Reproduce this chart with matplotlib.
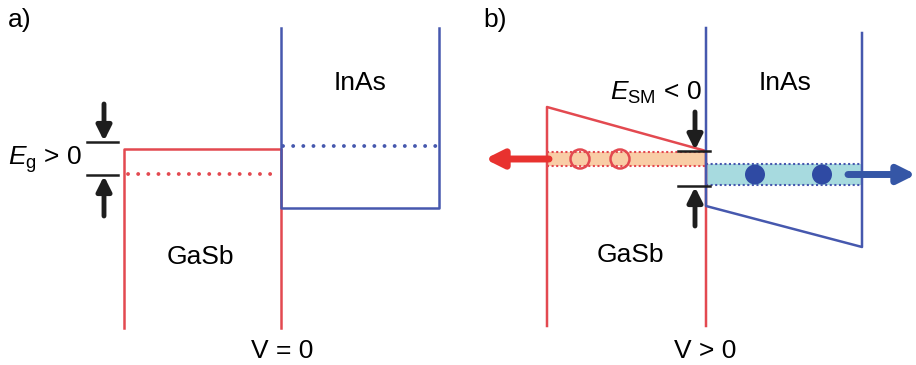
import matplotlib
matplotlib.use("Agg")
import matplotlib.pyplot as plt
from matplotlib.patches import Rectangle, Circle

plt.rcParams['font.family'] = ['Liberation Sans', 'DejaVu Sans']
plt.rcParams['mathtext.fontset'] = 'custom'
plt.rcParams['mathtext.rm'] = 'Liberation Sans'
plt.rcParams['mathtext.it'] = 'Liberation Sans:italic'

RED = '#e34950'
BLUE = '#4658ae'
BLACK = '#1e1e1e'

# panel a) flat bands (pixel-like units, y grows downwards)
a_x = [124, 281, 439]          # GaSb edge, interface, InAs edge
a_top = 28                     # top of InAs well walls
a_bottom = 328                 # bottom of GaSb walls
a_gasb_vb = 149                # GaSb valence band edge
a_gasb_lvl = 174               # GaSb confined hole level
a_inas_cb = 208                # InAs conduction band edge
a_inas_lvl = 146               # InAs confined electron level
a_gap = [142, 175]             # Eg marker ticks

# panel b) biased bands
b_x = [547, 706, 862]
b_top = [28, 33]
b_bottom = 326
b_gasb_vb = [107, 151]         # left edge, interface
b_inas_cb = [206, 247]         # interface, right edge
b_hole_band = [152, 166]
b_elec_band = [164, 185]
b_holes_x = [580, 620]
b_elecs_x = [755, 822]
b_gap = [151, 186]


def dotted(ax, x, y, color):
    ax.plot(x, y, color=color, lw=2.8, linestyle=(0, (0.01, 2.6)),
            dash_capstyle='round')


def arrow(ax, x0, y0, x1, y1, color, lw=3.5, ms=22):
    ax.annotate('', xy=(x1, y1), xytext=(x0, y0),
                arrowprops=dict(arrowstyle='-|>', lw=lw, color=color,
                                mutation_scale=ms, shrinkA=0, shrinkB=0))


fig = plt.figure(figsize=(9.16, 3.65), dpi=100)
ax = fig.add_axes([0, 0, 1, 1])
ax.set_xlim(0, 916)
ax.set_ylim(365, 0)
ax.axis('off')

# ---- panel a)
ax.plot([a_x[0], a_x[0], a_x[1], a_x[1]],
        [a_bottom, a_gasb_vb, a_gasb_vb, a_bottom], color=RED, lw=1.8)
ax.plot([a_x[1], a_x[1], a_x[2], a_x[2]],
        [a_top, a_inas_cb, a_inas_cb, a_top], color=BLUE, lw=1.8)
dotted(ax, [a_x[0] + 4, a_x[1] - 4], [a_gasb_lvl, a_gasb_lvl], RED)
dotted(ax, [a_x[1] + 2, a_x[2] - 2], [a_inas_lvl, a_inas_lvl], BLUE)

for yy in a_gap:
    ax.plot([87, 118], [yy, yy], color=BLACK, lw=1.8)
arrow(ax, 104, 104, 104, a_gap[0] - 1, BLACK)
arrow(ax, 104, 216, 104, a_gap[1] + 1, BLACK)

ax.text(8, 160, r'$E_{\rm g}$ > 0', fontsize=19, va='center', ha='left')
ax.text(360, 83, 'InAs', fontsize=19, ha='center', va='center')
ax.text(200, 257, 'GaSb', fontsize=19, ha='center', va='center')
ax.text(282, 351, 'V = 0', fontsize=19, ha='center', va='center')
ax.text(8, 20, 'a)', fontsize=19, ha='left', va='center')

# ---- panel b)
ax.add_patch(Rectangle((b_x[0], b_hole_band[0]), b_x[1] - b_x[0],
                       b_hole_band[1] - b_hole_band[0],
                       facecolor='#f9cda6', edgecolor='none'))
ax.add_patch(Rectangle((b_x[1], b_elec_band[0]), b_x[2] - b_x[1],
                       b_elec_band[1] - b_elec_band[0],
                       facecolor='#a7dadf', edgecolor='none'))
for yy in b_hole_band:
    ax.plot([b_x[0], b_x[1]], [yy, yy], color=RED, lw=1.5, linestyle=(0, (1, 1.2)))
for yy in b_elec_band:
    ax.plot([b_x[1], b_x[2]], [yy, yy], color=BLUE, lw=1.5, linestyle=(0, (1, 1.2)))

ax.plot([b_x[0], b_x[0], b_x[1], b_x[1]],
        [b_bottom, b_gasb_vb[0], b_gasb_vb[1], b_bottom], color=RED, lw=1.8)
ax.plot([b_x[1], b_x[1], b_x[2], b_x[2]],
        [b_top[0], b_inas_cb[0], b_inas_cb[1], b_top[1]], color=BLUE, lw=1.8)

yh = sum(b_hole_band) / 2
ye = sum(b_elec_band) / 2
for xx in b_holes_x:
    ax.add_patch(Circle((xx, yh), 9.5, facecolor='none', edgecolor=RED, lw=1.8))
for xx in b_elecs_x:
    ax.add_patch(Circle((xx, ye), 10, facecolor='#2f4aa3', edgecolor='none'))

arrow(ax, b_x[0] + 2, yh, 485, yh, '#e8322f', lw=5, ms=26)
arrow(ax, 848, ye, 916, ye, '#3556a6', lw=5, ms=26)

for yy in b_gap:
    ax.plot([678, 710], [yy, yy], color=BLACK, lw=1.8)
arrow(ax, 695, 112, 695, b_gap[0] - 1, BLACK)
arrow(ax, 695, 226, 695, b_gap[1] + 1, BLACK)

ax.text(610, 93, r'$E_{\rm SM}$ < 0', fontsize=19, va='center', ha='left')
ax.text(785, 83, 'InAs', fontsize=19, ha='center', va='center')
ax.text(630, 255, 'GaSb', fontsize=19, ha='center', va='center')
ax.text(705, 351, 'V > 0', fontsize=19, ha='center', va='center')
ax.text(483, 20, 'b)', fontsize=19, ha='left', va='center')

fig.savefig('out.png', dpi=100)
